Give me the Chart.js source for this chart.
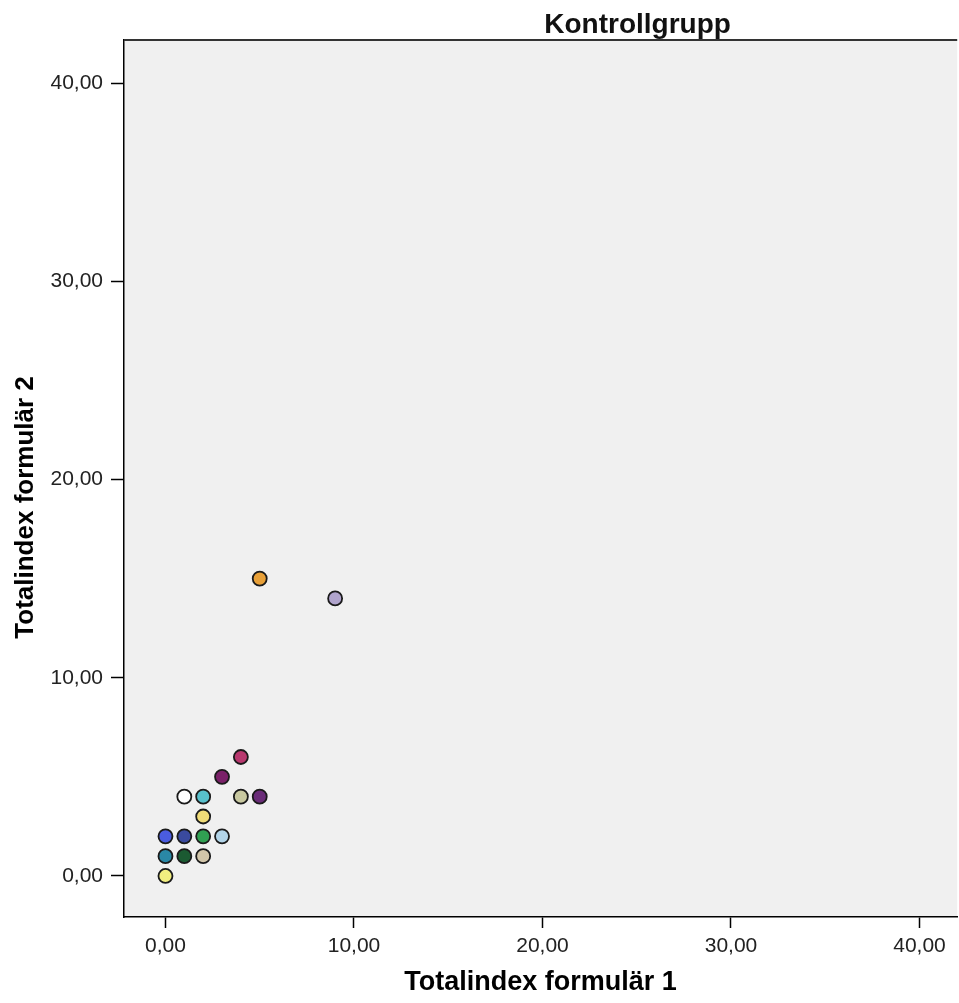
<!DOCTYPE html>
<html>
<head>
<meta charset="utf-8">
<title>Kontrollgrupp</title>
<script src="https://cdn.jsdelivr.net/npm/chart.js"></script>
<style>
  html, body { margin: 0; padding: 0; background: #fff; overflow: hidden; }
  #chart { display: block; }
</style>
</head>
<body>
<canvas id="chart" width="966" height="1003"></canvas>
<script>
// one case per point: x = formulär 1, y = formulär 2
let formular1 = [0, 0, 1, 2, 0, 1, 2, 3, 2, 1, 2, 4, 5, 3, 4, 5, 9];
let formular2 = [0, 1, 1, 1, 2, 2, 2, 2, 3, 4, 4, 4, 4, 5, 6, 15, 14];
let tickValues = [0, 10, 20, 30, 40];

// SPSS gives every case its own marker colour
let caseColors = [
  '#f2ee80', '#2a88a6', '#1b5a32', '#d2c6aa', '#4a5ce0', '#3a4a9e',
  '#30a052', '#b2d4e8', '#f0dc78', '#ffffff', '#58c0cc', '#c8c8a0',
  '#6a2c78', '#7a2068', '#b8386e', '#e8a038', '#b0a4cc'
];

Chart.defaults.font.family = "'Liberation Sans', Arial, sans-serif";
Chart.defaults.color = '#222';

function fmt(v) {
  return v.toFixed(2).replace('.', ',');
}

function setTicks(scale) {
  scale.ticks = tickValues.map(v => ({ value: v }));
}

// grey plot background, top frame line, title and y axis title
const frame = {
  id: 'frame',
  beforeDraw(chart) {
    const { ctx, chartArea: a } = chart;
    ctx.save();
    ctx.fillStyle = '#f0f0f0';
    ctx.fillRect(a.left, a.top, a.right - a.left, a.bottom - a.top);
    ctx.restore();
  },
  afterDraw(chart) {
    const { ctx, chartArea: a } = chart;
    ctx.save();
    ctx.strokeStyle = '#333';
    ctx.lineWidth = 2;
    ctx.beginPath();
    ctx.moveTo(a.left, a.top);
    ctx.lineTo(a.right, a.top);
    ctx.stroke();

    ctx.fillStyle = '#111';
    ctx.font = "bold 28px 'Liberation Sans', Arial, sans-serif";
    ctx.textAlign = 'center';
    ctx.textBaseline = 'alphabetic';
    ctx.fillText('Kontrollgrupp', chart.width * 0.66, a.top - 7);

    // SPSS puts the y title a bit below the middle of the axis
    ctx.fillStyle = '#000';
    ctx.font = "bold 26px 'Liberation Sans', Arial, sans-serif";
    ctx.textBaseline = 'middle';
    ctx.translate(26, a.top + (a.bottom - a.top) * 0.533);
    ctx.rotate(-Math.PI / 2);
    ctx.fillText('Totalindex formulär 2', 0, 0);
    ctx.restore();
  }
};

const data = {
  datasets: [{
    label: 'Kontrollgrupp',
    data: formular1.map((x, i) => ({ x: x, y: formular2[i] })),
    backgroundColor: caseColors,
    borderColor: '#1a1a1a',
    borderWidth: 1.8,
    pointRadius: 7,
    pointHoverRadius: 7
  }]
};

const config = {
  type: 'scatter',
  data: data,
  plugins: [frame],
  options: {
    responsive: false,
    animation: false,
    layout: { padding: { top: 40, left: 0, right: 0, bottom: 0 } },
    plugins: {
      legend: { display: false },
      tooltip: { enabled: false }
    },
    scales: {
      x: {
        type: 'linear',
        min: -2.2,
        max: 42,
        afterBuildTicks: setTicks,
        afterFit: s => { s.height = 86; },
        border: { color: '#000', width: 1.5 },
        grid: { drawOnChartArea: false, drawTicks: true, tickLength: 11, tickColor: '#000', tickWidth: 1.5 },
        ticks: { font: { size: 21 }, padding: 6, callback: v => fmt(v) },
        title: {
          display: true,
          text: 'Totalindex formulär 1',
          color: '#000',
          font: { size: 27, weight: 'bold' },
          padding: { top: 0, bottom: 4 }
        }
      },
      y: {
        type: 'linear',
        min: -2.07,
        max: 42.17,
        afterBuildTicks: setTicks,
        afterFit: s => { s.width = 124; },
        border: { color: '#000', width: 1.5 },
        grid: { drawOnChartArea: false, drawTicks: true, tickLength: 13, tickColor: '#000', tickWidth: 1.5 },
        ticks: { font: { size: 21 }, padding: 8, callback: v => fmt(v) },
        title: { display: false }
      }
    }
  }
};

const myChart = new Chart(document.getElementById('chart'), config);
</script>
</body>
</html>
